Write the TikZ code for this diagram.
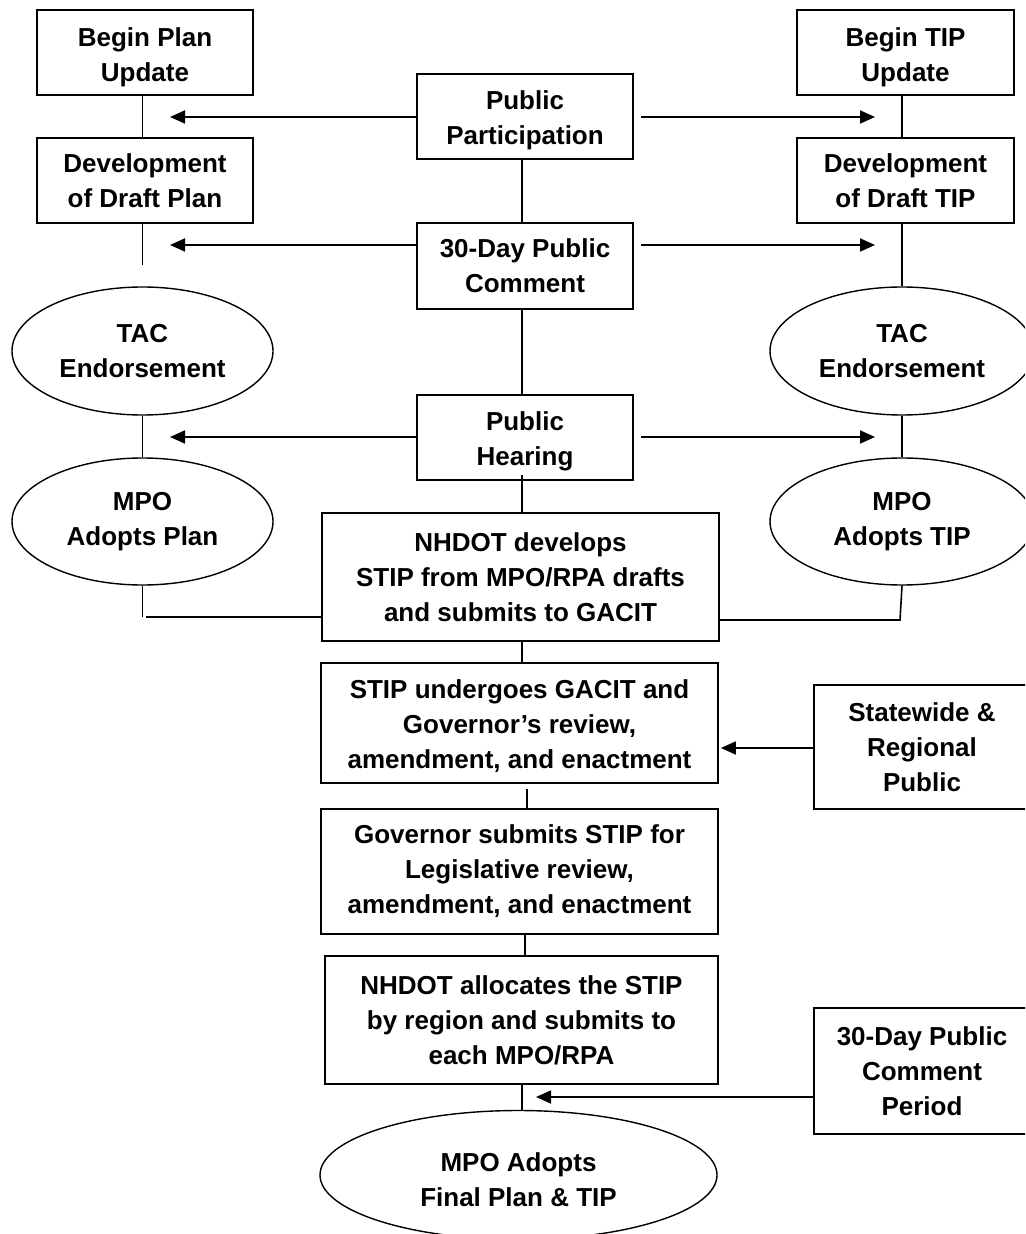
\documentclass[tikz,border=0pt]{standalone}
\usepackage{fontspec}
\setmainfont{Liberation Sans}
\usetikzlibrary{arrows.meta,shapes.geometric}
\newcommand{\tstrut}[1]{\rule{0pt}{#1}}
\begin{document}
\begin{tikzpicture}[x=0.5pt,y=-0.5pt,
  every node/.style={font=\bfseries\fontsize{13}{17.5}\selectfont, align=center, inner sep=0pt},
  box/.style={draw, line width=0.9pt, rectangle},
  oval/.style={draw, line width=0.7pt, ellipse},
  conn/.style={line width=0.8pt},
  arr/.style={line width=0.9pt, -{Triangle[length=7.5pt,width=6.5pt]}}
]
\useasboundingbox (0,0) rectangle (1025,1234);
\clip (0,0) rectangle (1025,1234);
% left column
\node[box, minimum width=108pt, minimum height=42.5pt] (bpu) at (145,52.5) {\tstrut{14pt}Begin Plan\\Update};
\node[box, minimum width=108pt, minimum height=42.5pt] (ddp) at (145,180.5) {Development\\of Draft Plan};
\node[oval, minimum width=130.5pt, minimum height=64pt] (tacL) at (142.5,351) {TAC\\Endorsement};
\node[oval, minimum width=130.5pt, minimum height=63.5pt] (mpoL) at (142.5,521.5) {MPO\\Adopts Plan};
% right column
\node[box, minimum width=108.5pt, minimum height=42.5pt] (btu) at (905.5,52.5) {\tstrut{14pt}Begin TIP\\Update};
\node[box, minimum width=108.5pt, minimum height=42.5pt] (ddt) at (905.5,180.5) {Development\\of Draft TIP};
\node[oval, minimum width=132pt, minimum height=64pt] (tacR) at (902,351) {TAC\\Endorsement};
\node[oval, minimum width=132pt, minimum height=63.5pt] (mpoR) at (902,521.5) {MPO\\Adopts TIP};
% centre column
\node[box, minimum width=108pt, minimum height=42.5pt] (pp) at (525,116.5) {\tstrut{13.5pt}Public\\Participation};
\node[box, minimum width=108pt, minimum height=43pt] (pc) at (525,266) {30-Day Public\\Comment};
\node[box, minimum width=108pt, minimum height=42.5pt] (ph) at (525,437.5) {\tstrut{13pt}Public\\Hearing};
\node[box, minimum width=198.5pt, minimum height=64pt] (nh) at (520.5,577) {NHDOT develops\\STIP from MPO/RPA drafts\\and submits to GACIT};
\node[box, minimum width=198.5pt, minimum height=60pt] (stip) at (519.5,723) {\tstrut{12.5pt}STIP undergoes GACIT and\\Governor’s review,\\amendment, and enactment};
\node[box, minimum width=198.5pt, minimum height=62.5pt] (gov) at (519.5,871.5) {Governor submits STIP for\\Legislative review,\\amendment, and enactment};
\node[box, minimum width=196.5pt, minimum height=64pt] (alloc) at (521.5,1020) {NHDOT allocates the STIP\\by region and submits to\\each MPO/RPA};
\node[oval, minimum width=198.5pt, minimum height=64.5pt] (final) at (518.5,1175) {\tstrut{14pt}MPO Adopts\\Final Plan \& TIP};
% far right
\node[box, minimum width=108pt, minimum height=62pt] (swp) at (922,747) {Statewide \&\\Regional\\Public};
\node[box, minimum width=108pt, minimum height=63pt] (pcp) at (922,1071) {30-Day Public\\Comment\\Period};
% free ends
\coordinate (eL) at (142.5,265);
\coordinate (cL) at (142.5,617);
\coordinate (hL) at (146,617);
\coordinate (cR) at (900,620);
\coordinate (aL1) at (170,117);
\coordinate (aR1) at (875,117);
\coordinate (aL2) at (170,245);
\coordinate (aR2) at (875,245);
\coordinate (aL3) at (170,437);
\coordinate (aR3) at (875,437);
\coordinate (aF) at (536,1097);
% vertical connectors left
\draw[conn] (bpu.south -| tacL.center) -- (ddp.north -| tacL.center);
\draw[conn] (ddp.south -| tacL.center) -- (eL);
\draw[conn] (tacL.south) -- (mpoL.north);
\draw[conn] (mpoL.south) -- (cL);
\draw[conn] (hL) -- (hL -| nh.west);
% vertical connectors right
\draw[conn] (btu.south -| tacR.center) -- (ddt.north -| tacR.center);
\draw[conn] (ddt.south -| tacR.center) -- (tacR.north);
\draw[conn] (tacR.south) -- (mpoR.north);
\draw[conn] (mpoR.south) -- (cR) -- (cR -| nh.east);
% centre connectors
\draw[conn] (pp.south -| 522,0) -- (pc.north -| 522,0);
\draw[conn] (pc.south -| 522,0) -- (ph.north -| 522,0);
\draw[conn] ([yshift=3pt]ph.south -| 522,0) -- (nh.north -| 522,0);
\draw[conn] (nh.south -| 522,0) -- (stip.north -| 522,0);
\draw[conn] ([yshift=-2.5pt]stip.south -| 527,0) -- (gov.north -| 527,0);
\draw[conn] (gov.south -| 525,0) -- (alloc.north -| 525,0);
\draw[conn] (alloc.south -| 522,0) -- (final.north -| 522,0);
% arrows
\draw[arr] (pp.west |- aL1) -- (aL1);
\draw[arr] ([xshift=3.5pt]pp.east |- aR1) -- (aR1);
\draw[arr] (pc.west |- aL2) -- (aL2);
\draw[arr] ([xshift=3.5pt]pc.east |- aR2) -- (aR2);
\draw[arr] (ph.west |- aL3) -- (aL3);
\draw[arr] ([xshift=3.5pt]ph.east |- aR3) -- (aR3);
\draw[arr] (swp.west |- 0,748) -- ([xshift=1pt]stip.east |- 0,748);
\draw[arr] (pcp.west |- aF) -- (aF);
\end{tikzpicture}
\end{document}
